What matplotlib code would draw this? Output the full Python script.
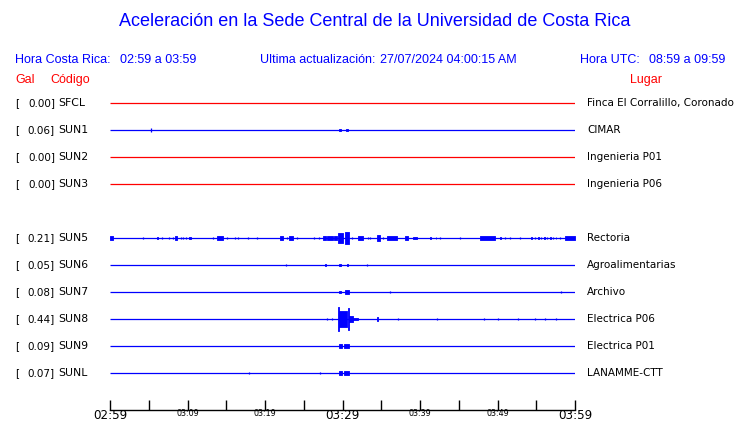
import matplotlib as mpl
mpl.use('Agg')
from matplotlib import pyplot as plt, transforms as mtr

# stations, top to bottom (row index 4 is empty)
codes = ['SFCL', 'SUN1', 'SUN2', 'SUN3', 'SUN5', 'SUN6', 'SUN7', 'SUN8', 'SUN9', 'SUNL']
rows = [0, 1, 2, 3, 5, 6, 7, 8, 9, 10]
places = ['Finca El Corralillo, Coronado', 'CIMAR', 'Ingenieria P01', 'Ingenieria P06',
          'Rectoria', 'Agroalimentarias', 'Archivo', 'Electrica P06', 'Electrica P01',
          'LANAMME-CTT']
peak_gal = [0.00, 0.06, 0.00, 0.00, 0.21, 0.05, 0.08, 0.44, 0.09, 0.07]

# bursts per station: (start minute, end minute, half amplitude in Gal)
bursts = {
    'SFCL': [],
    'SUN1': [(5.3, 5.3, 0.06), (29.5, 29.8, 0.05), (30.4, 30.7, 0.04)],
    'SUN2': [],
    'SUN3': [],
    'SUN5': [(0.0, 0.4, 0.09), (4.3, 4.3, 0.04), (6.1, 6.2, 0.05), (6.7, 6.7, 0.03),
             (7.6, 7.6, 0.03), (8.1, 8.1, 0.04), (8.4, 8.7, 0.06), (9.2, 9.2, 0.04),
             (9.4, 9.4, 0.05), (9.8, 9.8, 0.03), (10.2, 10.5, 0.05), (13.3, 13.3, 0.03),
             (13.8, 14.6, 0.06), (15.1, 15.1, 0.02), (16.1, 16.1, 0.04), (16.5, 16.5, 0.04),
             (17.8, 17.8, 0.04), (19.0, 19.0, 0.03), (21.9, 22.3, 0.07), (22.8, 22.8, 0.04),
             (23.1, 23.6, 0.06), (24.1, 24.1, 0.03), (26.3, 26.3, 0.04), (27.0, 27.0, 0.04),
             (27.5, 27.9, 0.06), (28.0, 28.8, 0.09), (28.9, 29.3, 0.06), (29.4, 30.1, 0.17),
             (30.3, 30.9, 0.22), (31.2, 31.2, 0.05), (32.0, 32.6, 0.06), (33.3, 33.3, 0.04),
             (33.6, 33.6, 0.04), (34.4, 34.8, 0.12), (35.2, 35.2, 0.04), (35.7, 37.0, 0.06),
             (38.1, 38.5, 0.06), (39.1, 39.6, 0.04), (41.3, 41.4, 0.05), (42.0, 42.1, 0.04),
             (42.6, 42.6, 0.05), (45.2, 45.2, 0.03), (47.7, 49.7, 0.08), (50.3, 50.4, 0.05),
             (51.0, 51.0, 0.04), (51.6, 51.6, 0.05), (52.9, 52.9, 0.04), (54.3, 54.4, 0.05),
             (54.8, 54.8, 0.04), (55.2, 55.3, 0.05), (55.6, 55.6, 0.04), (56.0, 56.1, 0.05),
             (56.4, 56.4, 0.04), (56.8, 56.9, 0.05), (57.2, 57.2, 0.04), (57.5, 57.6, 0.05),
             (58.1, 58.1, 0.04), (58.7, 60.0, 0.08)],
    'SUN6': [(22.7, 22.7, 0.03), (27.7, 27.9, 0.04), (29.6, 29.8, 0.04), (30.6, 30.7, 0.05),
             (33.2, 33.2, 0.03)],
    'SUN7': [(29.5, 29.8, 0.05), (30.3, 30.8, 0.08), (36.1, 36.1, 0.03), (58.2, 58.2, 0.03)],
    'SUN8': [(28.0, 28.0, 0.05), (28.6, 28.6, 0.04), (29.4, 29.5, 0.44), (29.6, 30.6, 0.3),
             (30.7, 30.8, 0.42), (30.9, 31.3, 0.12), (31.4, 32.0, 0.05), (34.5, 34.6, 0.06),
             (37.2, 37.2, 0.03), (42.2, 42.2, 0.04), (48.3, 48.3, 0.05), (50.1, 50.1, 0.03),
             (52.6, 52.6, 0.04), (54.8, 54.8, 0.03), (56.1, 56.1, 0.04), (57.5, 57.5, 0.03)],
    'SUN9': [(29.5, 29.9, 0.07), (30.2, 30.9, 0.09)],
    'SUNL': [(17.9, 17.9, 0.02), (27.1, 27.1, 0.04), (29.5, 29.9, 0.06), (30.2, 30.9, 0.07)],
}

tick_minutes = list(range(0, 61, 5))
tick_labels = ['02:59', '', '03:09', '', '03:19', '', '03:29', '', '03:39', '', '03:49', '', '03:59']
big_labels = ['02:59', '03:29', '03:59']

title = 'Aceleración en la Sede Central de la Universidad de Costa Rica'
local_range = '02:59 a 03:59'
utc_range = '08:59 a 09:59'
updated = '27/07/2024 04:00:15 AM'

W, H = 740, 423
fig = plt.figure(figsize=(W / 100, H / 100), dpi=100)
ax = fig.add_axes([110 / W, (H - 410) / H, 465 / W, 320 / H])
ax.set_xlim(0, 60)
ax.set_ylim(11.37, -0.481)
ax.patch.set_alpha(0)
for s in ['top', 'left', 'right']:
    ax.spines[s].set_visible(False)
ax.spines['bottom'].set_linewidth(1)
ax.set_yticks([])
ax.set_xticks(tick_minutes)
ax.set_xticklabels(tick_labels)
ax.tick_params(axis='x', direction='in', length=7.5, width=1, pad=-1)
for lab in ax.get_xticklabels():
    lab.set_fontsize(8.6 if lab.get_text() in big_labels else 5.8)

blue = '#0000ff'
red = '#ff0000'
for code, row, peak in zip(codes, rows, peak_gal):
    col = red if peak == 0 else blue
    ax.hlines(row, 0, 60, color=col, lw=0.9)
    for t0, t1, a in bursts[code]:
        if t1 == t0:
            ax.vlines(t0, row - a, row + a, color=col, lw=0.9)
        else:
            ax.fill_between([t0, t1], row - a, row + a, color=col, lw=0.6)

# labels aligned to rows
trans = mtr.blended_transform_factory(fig.transFigure, ax.transData)
for code, row, peak, place in zip(codes, rows, peak_gal, places):
    fig.text(15 / W, row, '[', transform=trans, va='center', fontsize=7.5)
    fig.text(55 / W, row, '%.2f]' % peak, transform=trans, va='center', ha='right', fontsize=7.5)
    fig.text(58 / W, row, code, transform=trans, va='center', fontsize=7.8)
    fig.text(587 / W, row, place, transform=trans, va='center', fontsize=7.5)

hf = 'Liberation Sans'
fig.text(375 / W, 1 - 22 / H, title, ha='center', va='center', color=blue, fontsize=13, family=hf)
fig.text(15 / W, 1 - 60 / H, 'Hora Costa Rica:', va='center', color=blue, fontsize=9, family=hf)
fig.text(120 / W, 1 - 60 / H, local_range, va='center', color=blue, fontsize=9, family=hf)
fig.text(260 / W, 1 - 60 / H, 'Ultima actualización:', va='center', color=blue, fontsize=9, family=hf)
fig.text(380 / W, 1 - 60 / H, updated, va='center', color=blue, fontsize=9, family=hf)
fig.text(580 / W, 1 - 60 / H, 'Hora UTC:', va='center', color=blue, fontsize=9, family=hf)
fig.text(725 / W, 1 - 60 / H, utc_range, va='center', ha='right', color=blue, fontsize=9, family=hf)
fig.text(15 / W, 1 - 80 / H, 'Gal', va='center', color=red, fontsize=9, family=hf)
fig.text(50 / W, 1 - 80 / H, 'Código', va='center', color=red, fontsize=9, family=hf)
fig.text(630 / W, 1 - 80 / H, 'Lugar', va='center', color=red, fontsize=9, family=hf)

fig.savefig('out.png', dpi=100)
